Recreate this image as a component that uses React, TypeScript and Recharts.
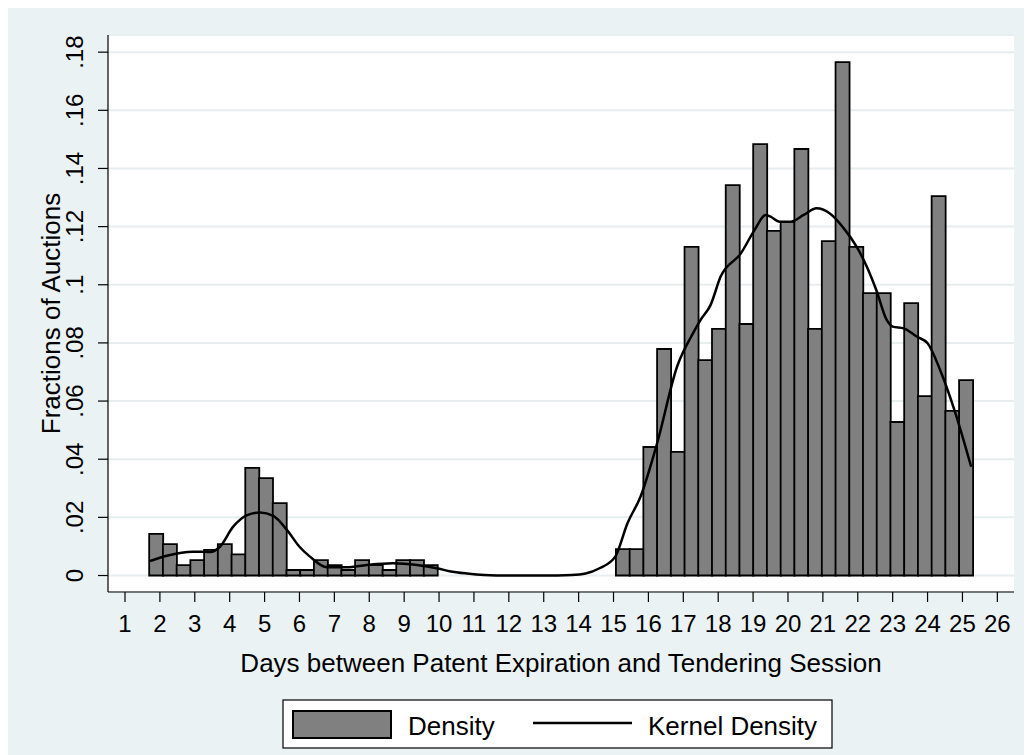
import { ComposedChart, Bar, Line, XAxis, YAxis, CartesianGrid, Label } from 'recharts';

// histogram bins (fraction of auctions per bin)
const BIN_WIDTH = 0.3934;
const FIRST_EDGE = 1.693;
const PAD_BINS = 3;

const leftBins = [
  0.0143, 0.0108, 0.0036, 0.0053, 0.0088, 0.0108, 0.0073, 0.037, 0.0335, 0.0249, 0.0019,
  0.0019, 0.0053, 0.0036, 0.0019, 0.0053, 0.0036, 0.0019, 0.0053, 0.0053, 0.0036,
];
const gapBins = [null, null, null, null, null, null, null, null, null, null, null, null, null];
const rightBins = [
  0.0091, 0.0091, 0.0442, 0.0779, 0.0425, 0.113, 0.0741, 0.0848, 0.1343, 0.0865, 0.1484, 0.1185, 0.1216,
  0.1467, 0.0848, 0.115, 0.1766, 0.113, 0.0971, 0.0971, 0.0528, 0.0937, 0.0617, 0.1305, 0.0566, 0.0672,
];
const edgeBins = [null, null, null];

// kernel density estimate
const kernelX = [
  1.72, 2.2, 2.95, 3.44, 3.72, 4.1, 4.5, 4.87, 5.25, 5.64, 6.0, 6.3, 6.79, 7.36, 7.93, 8.68, 9.37, 9.94,
  10.3, 10.8, 11.3, 12, 13, 13.8, 14.2, 14.6, 15.05, 15.4, 15.77, 16.25, 16.82, 17.3, 17.5, 17.78, 18.07,
  18.65, 19.04, 19.36, 19.5, 19.76, 20.07, 20.45, 20.82, 21.2, 21.6, 21.97, 22.26, 22.53, 22.83, 23.0,
  23.32, 23.7, 24.0, 24.36, 24.77, 25.25,
];
const kernelY = [
  0.005, 0.0068, 0.0082, 0.0081, 0.0099, 0.0168, 0.0208, 0.0217, 0.0205, 0.0157, 0.0099, 0.0065, 0.0028,
  0.0028, 0.0036, 0.0042, 0.0036, 0.0025, 0.0015, 0.0007, 0.0002, 0, 0, 0.0002, 0.0007, 0.0025, 0.0065,
  0.018, 0.027, 0.0455, 0.0718, 0.0838, 0.088, 0.093, 0.1028, 0.1108, 0.1188, 0.124, 0.1234, 0.1217,
  0.1217, 0.124, 0.1263, 0.1245, 0.1194, 0.113, 0.1062, 0.0982, 0.0879, 0.0856, 0.085, 0.0821, 0.0799,
  0.0707, 0.0569, 0.0374,
];

const xTicks = [1, 2, 3, 4, 5, 6, 7, 8, 9, 10, 11, 12, 13, 14, 15, 16, 17, 18, 19, 20, 21, 22, 23, 24, 25, 26];
const yTicks = [0, 0.02, 0.04, 0.06, 0.08, 0.1, 0.12, 0.14, 0.16, 0.18];

const FONT = '"Liberation Sans", Arial, sans-serif';

const bins = [...edgeBins, ...leftBins, ...gapBins, ...rightBins, ...edgeBins];
const histData = bins.map((v, i) => ({
  center: (FIRST_EDGE + (i - PAD_BINS + 0.5) * BIN_WIDTH).toFixed(3),
  density: v,
}));
const kernelData = kernelX.map((x, i) => ({ x, kde: kernelY[i] }));

const X_MIN = FIRST_EDGE - PAD_BINS * BIN_WIDTH;
const X_MAX = X_MIN + bins.length * BIN_WIDTH;

const fmtY = (v: number) => (v === 0 ? '0' : v.toFixed(2).replace(/^0/, '').replace(/0$/, ''));

const XTick = ({ x, y, payload }: any) => (
  <text x={x} y={y} textAnchor="middle" fontFamily={FONT} fontSize={24} fill="#000">
    {payload.value}
  </text>
);

const YTick = ({ x, y, payload }: any) => (
  <text
    x={x}
    y={y}
    transform={`rotate(-90, ${x}, ${y})`}
    textAnchor="middle"
    fontFamily={FONT}
    fontSize={24}
    fill="#000"
  >
    {fmtY(payload.value)}
  </text>
);

const XTitle = ({ viewBox }: any) => (
  <text x={viewBox.x + viewBox.width / 2} y={664} textAnchor="middle" fontFamily={FONT} fontSize={26} fill="#000">
    Days between Patent Expiration and Tendering Session
  </text>
);

const YTitle = ({ viewBox }: any) => {
  const cy = viewBox.y + viewBox.height / 2;
  return (
    <text x={54} y={cy} transform={`rotate(-90, 54, ${cy})`} textAnchor="middle" fontFamily={FONT} fontSize={26} fill="#000">
      Fractions of Auctions
    </text>
  );
};

function LegendBox() {
  return (
    <svg width={551} height={50} style={{ position: 'absolute', left: 276, top: 691 }}>
      <rect x={1} y={1} width={549} height={48} fill="#fff" stroke="#000" strokeWidth={1.2} />
      <rect x={11} y={12} width={98} height={27} fill="#808080" stroke="#000" strokeWidth={2} />
      <text x={126} y={36} fontFamily={FONT} fontSize={26} fill="#000">Density</text>
      <line x1={251} x2={350} y1={24} y2={24} stroke="#000" strokeWidth={2.5} />
      <text x={366} y={36} fontFamily={FONT} fontSize={26} fill="#000">Kernel Density</text>
    </svg>
  );
}

export default function App() {
  return (
    <div style={{ position: 'relative', left: -2, width: 1026, height: 747, background: '#eaf2f3' }}>
      <ComposedChart
        width={1026}
        height={747}
        data={histData}
        margin={{ top: 27, right: 18, left: 0, bottom: 0 }}
        barCategoryGap={0}
        barGap={0}
      >
        <CartesianGrid vertical={false} fill="#fff" stroke="#e6eef0" strokeWidth={2} />
        <XAxis xAxisId="bins" dataKey="center" type="category" hide />
        <XAxis
          dataKey="x"
          type="number"
          domain={[X_MIN, X_MAX]}
          ticks={xTicks}
          allowDataOverflow
          height={163}
          tickSize={10}
          tickMargin={30}
          tick={<XTick />}
          axisLine={{ stroke: '#000', strokeWidth: 1.2 }}
          tickLine={{ stroke: '#000', strokeWidth: 1.2 }}
        >
          <Label content={<XTitle />} />
        </XAxis>
        <YAxis
          type="number"
          domain={[-0.00567, 0.1859]}
          ticks={yTicks}
          allowDataOverflow
          width={102}
          tickSize={10}
          tickMargin={15}
          tick={<YTick />}
          axisLine={{ stroke: '#000', strokeWidth: 1.2 }}
          tickLine={{ stroke: '#000', strokeWidth: 1.2 }}
        >
          <Label content={<YTitle />} />
        </YAxis>
        <Bar
          xAxisId="bins"
          dataKey="density"
          fill="#808080"
          stroke="#000"
          strokeWidth={1.8}
          isAnimationActive={false}
        />
        <Line
          data={kernelData}
          dataKey="kde"
          type="monotone"
          stroke="#000"
          strokeWidth={2.5}
          dot={false}
          isAnimationActive={false}
        />
      </ComposedChart>
      <LegendBox />
    </div>
  );
}
